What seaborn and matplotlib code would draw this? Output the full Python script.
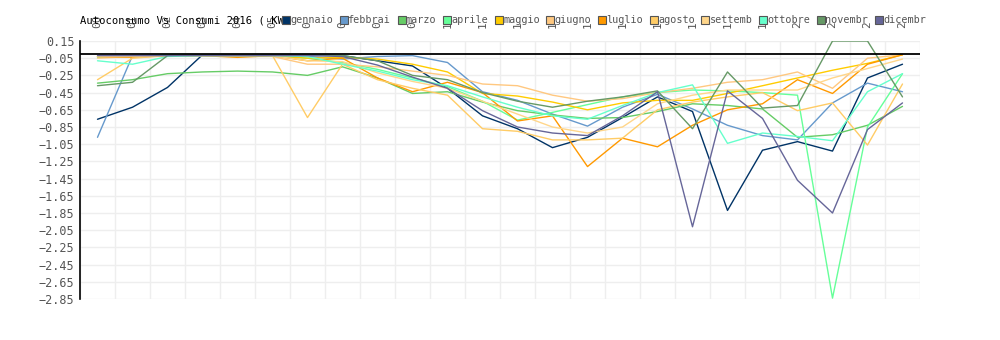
import numpy as np
import pandas as pd
import matplotlib
matplotlib.use("Agg")
import matplotlib.pyplot as plt
from matplotlib.lines import Line2D
import seaborn as sns

hour_labels = ["00", "01", "02", "03", "04", "05", "0", "0", "0", "0",
               "1", "1", "1", "1", "1", "1", "1", "1", "1", "1",
               "2", "2", "2", "2"]
months = ["gennaio", "febbrai", "marzo", "aprile", "maggio", "giugno",
          "luglio", "agosto", "settemb", "ottobre", "novembr", "dicembr"]
colors = ["#003366", "#6699cc", "#66cc66", "#66ff99", "#ffcc00", "#ffc880",
          "#ff9900", "#ffcc66", "#ffd68a", "#66ffcc", "#669966", "#666699"]

gennaio = [-0.76, -0.62, -0.39, -0.01, -0.01, -0.01, -0.01, -0.02, -0.08, -0.14, -0.40, -0.72,
           -0.87, -1.09, -0.97, -0.74, -0.50, -0.67, -1.82, -1.12, -1.02, -1.13, -0.28, -0.12]
febbrai = [-0.97, -0.02, -0.01, -0.01, -0.01, -0.01, -0.03, -0.06, -0.03, -0.02, -0.10, -0.44,
           -0.54, -0.70, -0.84, -0.62, -0.47, -0.64, -0.83, -0.95, -1.00, -0.57, -0.34, -0.44]
marzo = [-0.34, -0.30, -0.23, -0.21, -0.20, -0.21, -0.25, -0.15, -0.28, -0.46, -0.44, -0.56,
         -0.66, -0.71, -0.75, -0.74, -0.67, -0.58, -0.60, -0.64, -0.97, -0.94, -0.83, -0.61]
aprile = [-0.04, -0.03, -0.01, -0.01, -0.01, -0.02, -0.05, -0.10, -0.18, -0.28, -0.38, -0.55,
          -0.77, -0.68, -0.59, -0.50, -0.45, -0.42, -0.43, -0.45, -0.48, -2.84, -0.85, -0.23]
maggio = [-0.03, -0.03, -0.02, -0.02, -0.02, -0.02, -0.05, -0.04, -0.06, -0.12, -0.21, -0.46,
          -0.49, -0.56, -0.65, -0.57, -0.54, -0.54, -0.46, -0.37, -0.28, -0.19, -0.11, -0.01]
giugno = [-0.05, -0.03, -0.02, -0.02, -0.03, -0.03, -0.12, -0.12, -0.15, -0.20, -0.25, -0.35,
          -0.37, -0.48, -0.55, -0.52, -0.45, -0.40, -0.33, -0.30, -0.21, -0.40, -0.05, -0.01]
luglio = [-0.03, -0.04, -0.02, -0.02, -0.04, -0.02, -0.08, -0.05, -0.28, -0.44, -0.33, -0.45,
          -0.78, -0.72, -1.31, -0.98, -1.08, -0.83, -0.65, -0.58, -0.30, -0.46, -0.12, -0.01]
agosto = [-0.30, -0.05, -0.02, -0.02, -0.02, -0.02, -0.74, -0.12, -0.30, -0.40, -0.48, -0.87,
          -0.90, -1.00, -1.00, -0.98, -0.65, -0.56, -0.50, -0.45, -0.66, -0.57, -1.06, -0.35]
settemb = [-0.03, -0.03, -0.02, -0.02, -0.02, -0.02, -0.08, -0.09, -0.22, -0.32, -0.40, -0.55,
           -0.70, -0.85, -0.92, -0.85, -0.58, -0.48, -0.42, -0.42, -0.42, -0.28, -0.17, -0.06]
ottobre = [-0.08, -0.12, -0.03, -0.02, -0.02, -0.02, -0.03, -0.12, -0.20, -0.30, -0.37, -0.50,
           -0.62, -0.72, -0.76, -0.60, -0.45, -0.36, -1.04, -0.92, -0.96, -1.01, -0.44, -0.23]
novembr = [-0.37, -0.33, -0.02, -0.01, -0.01, -0.01, -0.01, -0.02, -0.08, -0.25, -0.30, -0.45,
           -0.55, -0.62, -0.55, -0.50, -0.43, -0.87, -0.21, -0.63, -0.60, 0.15, 0.15, -0.50]
dicembr = [-0.02, -0.02, -0.02, -0.02, -0.02, -0.02, -0.02, -0.03, -0.13, -0.27, -0.40, -0.66,
           -0.85, -0.92, -0.95, -0.72, -0.44, -2.01, -0.43, -0.75, -1.47, -1.85, -0.88, -0.57]

series = [gennaio, febbrai, marzo, aprile, maggio, giugno,
          luglio, agosto, settemb, ottobre, novembr, dicembr]
y_ticks = [0.15, -0.05, -0.25, -0.45, -0.65, -0.85, -1.05, -1.25, -1.45, -1.65,
           -1.85, -2.05, -2.25, -2.45, -2.65, -2.85]
title = "Autoconsumo Vs Consumi 2016 ( KWh"

rows = []
for m, vals in zip(months, series):
    for i, v in enumerate(vals):
        rows.append({"mese": m, "pos": i, "val": v})
df = pd.DataFrame(rows)

sns.set_theme(style="white")
plt.rcParams["font.family"] = ["DejaVu Sans Mono"]

fig = plt.figure(figsize=(10, 3.4), dpi=100)
ax = fig.add_axes([0.08, 1 - 299 / 340, 0.84, (299 - 41) / 340])

sns.lineplot(data=df, x="pos", y="val", hue="mese", hue_order=months,
             palette=colors, linewidth=1.0, legend=False, sort=False, ax=ax)

ax.axhline(0, color="black", lw=1.3, zorder=5)

ax.set_xlim(-0.5, 23.5)
ax.set_ylim(-2.85, 0.15)
ax.set_yticks(y_ticks)
ax.set_yticklabels([f"{t:.2f}".replace("-", "\u2212") for t in y_ticks])
ax.set_xticks(range(24))
ax.set_xticklabels(hour_labels, rotation=90)
ax.set_xticks(np.arange(-0.5, 24, 1), minor=True)
ax.xaxis.tick_top()
ax.tick_params(axis="x", which="both", length=0, pad=9, labelsize=8, labelcolor="#555555")
ax.tick_params(axis="y", length=0, pad=4, labelsize=8.5, labelcolor="#555555")
ax.grid(False)
ax.grid(axis="y", which="major", color="#eeeeee", lw=1)
ax.grid(axis="x", which="minor", color="#eeeeee", lw=1)
ax.set_xlabel("")
ax.set_ylabel("")
for s in ["top", "right", "bottom"]:
    ax.spines[s].set_visible(False)
ax.spines["left"].set_color("black")
ax.spines["left"].set_linewidth(1.2)

fig.text(0.08, 0.94, title, fontsize=7.6, color="black", va="center", ha="left")

handles = [Line2D([0], [0], marker="s", linestyle="none", markersize=5.5,
                  markerfacecolor=c, markeredgecolor="#555555", markeredgewidth=0.8)
           for c in colors]
fig.legend(handles, months, loc="center left", bbox_to_anchor=(0.283, 0.94),
           ncol=12, frameon=False, fontsize=7.3, labelcolor="#555555",
           handlelength=0.6, handletextpad=0.12, columnspacing=0.75,
           borderpad=0, borderaxespad=0)

fig.savefig("out.png", dpi=100)
